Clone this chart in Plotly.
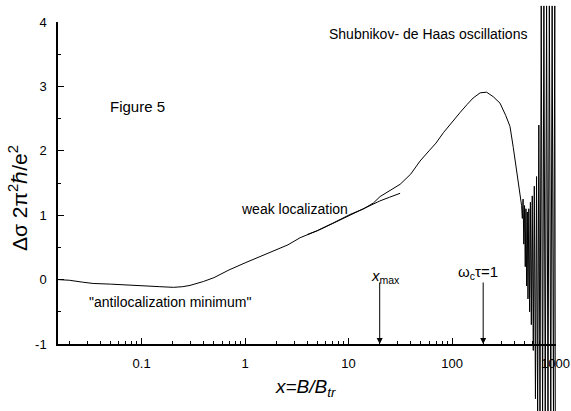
import numpy as np
import plotly.graph_objects as go

# ---- data ----
curve_x = [0.0156, 0.02, 0.027, 0.034, 0.05, 0.072, 0.1, 0.15, 0.203, 0.25, 0.294, 0.35, 0.395,
           0.5, 0.7, 1.0, 1.4, 2.0, 2.6, 3.4, 5.0, 7.13, 10.3, 14.0, 17.4, 20.2, 25.0, 31.5,
           40.0, 49.0, 60.0, 70.0, 82.4, 100.0, 119.0, 140.0, 160.0, 187.0, 216.0, 250.0,
           291.0, 330.0, 363.0, 391.0, 420.0, 454.0, 470.0]
curve_y = [0.00, -0.01, -0.04, -0.06, -0.07, -0.08, -0.09, -0.11, -0.12, -0.11, -0.09, -0.06, -0.03,
           0.03, 0.15, 0.26, 0.36, 0.47, 0.54, 0.65, 0.76, 0.88, 1.01, 1.10, 1.19, 1.29, 1.38, 1.48,
           1.64, 1.84, 2.00, 2.12, 2.28, 2.45, 2.59, 2.72, 2.82, 2.90, 2.91, 2.84,
           2.74, 2.55, 2.38, 2.05, 1.70, 1.29, 1.15]

osc_x = [478, 486, 494, 502, 510, 518, 526, 534, 542, 552, 562, 572, 584, 596, 610, 624,
         640, 656, 672, 690, 708, 728, 750, 772, 796, 820, 846, 872, 900, 928, 956, 984, 995]
osc_y = [0.95, 1.25, 0.55, 1.15, 0.20, 1.10, -0.10, 1.05, -0.30, 1.10, -0.50, 1.20, -0.70, 1.30, -1.10, 1.45,
         -1.85, 1.60, -2.20, 2.40, -2.20, 4.25, -2.20, 4.25, -2.20, 4.25, -2.20, 4.25, -2.20, 4.25, -2.20, 4.25, -2.20]

wl_x = [4.0, 5.0, 7.0, 10.0, 15.0, 20.0, 25.0, 31.5]
wl_y = [0.70, 0.76, 0.87, 0.99, 1.13, 1.22, 1.28, 1.34]

x_tickvals = [0.1, 1, 10, 100, 1000]
x_ticktext = ["0.1", "1", "10", "100", "1000"]
x_minor = [m * 10.0 ** d for d in range(-2, 3) for m in range(2, 10)]
y_tickvals = [-1, 0, 1, 2, 3, 4]
y_ticktext = ["-1", "0", "1", "2", "3", "4"]

arrow_x = [20, 200]

W, H = 571, 411
FONT = "Liberation Sans, Arial, Helvetica, sans-serif"

def px(p):
    return p / W

def py(p):
    return 1 - p / H

# plot area in pixels
L, R, T, B = 58, 556, 22, 344
y0, y1 = -1.0, 4.0
ppu = (B - T) / (y1 - y0)
y2_range = [y0 - (H - B) / ppu, y1 + T / ppu]
x_range = [np.log10(0.01557), np.log10(1011)]

fig = go.Figure()

fig.add_trace(go.Scatter(x=wl_x, y=wl_y, mode="lines",
                         line=dict(color="black", width=1), xaxis="x", yaxis="y",
                         showlegend=False, hoverinfo="skip"))

fig.add_trace(go.Scatter(x=curve_x + osc_x, y=curve_y + osc_y, mode="lines",
                         line=dict(color="black", width=1), xaxis="x2", yaxis="y2",
                         showlegend=False, hoverinfo="skip"))

axis_common = dict(showgrid=False, zeroline=False, showline=True, linecolor="black",
                   ticks="inside", ticklen=6, tickwidth=1, tickcolor="black",
                   tickfont=dict(family=FONT, size=13, color="black"), automargin=False)

fig.update_layout(
    width=W, height=H,
    margin=dict(l=0, r=0, t=0, b=0),
    paper_bgcolor="white", plot_bgcolor="rgba(0,0,0,0)",
    showlegend=False,
    xaxis=dict(type="log", range=x_range, domain=[px(L), px(R)], anchor="y",
               tickvals=x_tickvals, ticktext=x_ticktext, ticklabelstandoff=6, linewidth=2,
               minor=dict(tickvals=x_minor, ticks="inside", ticklen=3, tickwidth=1,
                          tickcolor="black", showgrid=False),
               **axis_common),
    yaxis=dict(range=[y0, y1], domain=[py(B), py(T)], anchor="x",
               tickvals=y_tickvals, ticktext=y_ticktext, ticklabelstandoff=7, linewidth=1.5,
               minor=dict(dtick=0.5, ticks="inside", ticklen=3, tickwidth=1,
                          tickcolor="black", showgrid=False),
               **axis_common),
    xaxis2=dict(type="log", range=x_range, domain=[px(L), px(R)], anchor="y2",
                visible=False, showgrid=False, zeroline=False),
    yaxis2=dict(range=y2_range, domain=[0, 1], anchor="x2",
                visible=False, showgrid=False, zeroline=False),
)

def note(text, x, y, size=14, xanchor="left", angle=0):
    fig.add_annotation(text=text, x=px(x), y=py(y), xref="paper", yref="paper",
                       xanchor=xanchor, yanchor="middle", showarrow=False,
                       textangle=angle, font=dict(family=FONT, size=size, color="black"))

note("Figure 5", 108, 106, size=15)
note("Shubnikov- de Haas oscillations", 327, 34, size=14)
note("weak localization", 239, 209, size=14)
note("\"antilocalization minimum\"", 87, 302, size=14)
note("<i>x</i><sub>max</sub>", 369, 276, size=15)
note("ω<sub>c</sub>τ=1", 456, 272, size=15)
note("Δσ 2π<sup>2</sup>ℏ/e<sup>2</sup>", 18, 198, size=21, xanchor="center", angle=-90)
note("<i>x=B/B</i><sub><i>tr</i></sub>", 305, 388, size=19, xanchor="center")

for ax_val in arrow_x:
    fig.add_annotation(text="", x=np.log10(ax_val), y=-1, xref="x", yref="y",
                       showarrow=True, ax=0, ay=-63, axref="pixel", ayref="pixel",
                       arrowhead=2, arrowsize=1.2, arrowwidth=1, arrowcolor="black",
                       standoff=0)

fig.write_html("out.html")
